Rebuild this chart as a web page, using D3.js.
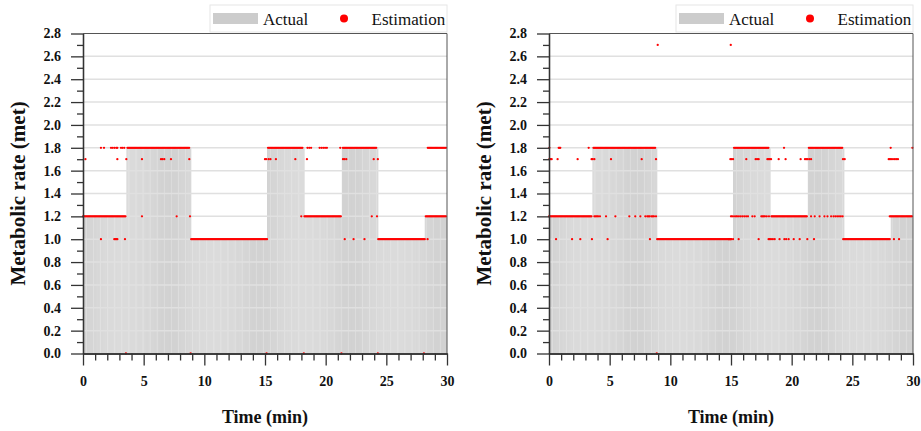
<!DOCTYPE html>
<html>
<head>
<meta charset="utf-8">
<script src="https://cdn.jsdelivr.net/npm/d3@7"></script>
<style>
body { margin: 0; background: #fff; }
svg text { font-family: "Liberation Serif", "Times New Roman", Times, serif; fill: #111; }
</style>
</head>
<body>
<div id="container"></div>
<script>
// 5 s samples, in minutes
const sampleStep = 1 / 12;
const nSamples = 360;

const xTicks = [0, 5, 10, 15, 20, 25, 30];
const yTicks = [0.0, 0.2, 0.4, 0.6, 0.8, 1.0, 1.2, 1.4, 1.6, 1.8, 2.0, 2.2, 2.4, 2.6, 2.8];

// actual activity level: [from, to, met]
const actualRuns = [
    [0, 3.55, 1.2], [3.55, 8.85, 1.8], [8.85, 15.13, 1.0], [15.13, 18.18, 1.8],
    [18.18, 21.32, 1.2], [21.32, 24.28, 1.8], [24.28, 28.15, 1.0], [28.15, 30, 1.2]
];

// estimation, continuous stretches: [from, to, met]
const leftEstRuns = [
    [0, 3.5, 1.2], [3.6, 8.8, 1.8], [8.9, 15.2, 1.0], [15.25, 18.13, 1.8],
    [18.2, 21.3, 1.2], [21.35, 24.23, 1.8], [24.3, 28.2, 1.0], [28.2, 30, 1.2], [28.4, 30, 1.8]
];
// estimation, single points: [met, [times]]
const leftEstPoints = [
    [1.8, [1.48, 1.73, 2.31, 2.45, 2.6, 2.75, 2.83, 3.13, 3.25, 3.4, 18.5, 18.65, 18.8, 19.5, 19.65, 19.8, 19.95, 20.1, 21.2]],
    [1.7, [0.2, 2.83, 3.57, 4.86, 6.43, 6.55, 6.7, 7.25, 8.76, 15.0, 15.1, 15.3, 15.45, 15.9, 17.5, 18.46, 21.43, 21.55, 21.7, 23.96, 24.3]],
    [1.2, [4.86, 7.72, 8.82, 17.99, 23.8, 24.23]],
    [1.0, [1.48, 2.58, 2.66, 2.75, 2.83, 3.46, 21.57, 22.3, 23.2, 28.4]],
    [0.0, [3.54, 8.87, 15.13, 18.2, 21.3, 24.3, 28.1]]
];

const rightEstRuns = [
    [0, 3.52, 1.2], [3.65, 8.76, 1.8], [8.9, 15.0, 1.0], [15.17, 18.1, 1.8],
    [18.3, 21.3, 1.2], [21.35, 24.23, 1.8], [24.23, 28.16, 1.0], [28.08, 30, 1.2]
];
const rightEstPoints = [
    [2.7, [8.96, 14.98]],
    [1.8, [0.03, 0.8, 0.87, 0.93, 3.27, 19.37, 28.16, 29.95]],
    [1.7, [0.03, 0.12, 0.22, 0.71, 2.36, 3.51, 3.6, 3.74, 5.11, 7.64, 8.82, 14.95, 15.05, 15.17, 16.26, 17.03, 17.15, 17.28,
           18.0, 18.1, 18.2, 18.3, 18.93, 19.5, 20.74, 21.1, 21.2, 21.3, 21.45, 21.6, 24.23, 24.37, 28.0, 28.1, 28.2, 28.35, 28.5, 28.62, 28.76]],
    [1.2, [3.74, 3.85, 3.95, 4.05, 4.2, 4.7, 5.47, 6.62, 7.11, 7.53, 7.94, 8.1, 8.2, 8.3, 8.45, 8.55, 8.65, 8.82,
           15.0, 15.1, 15.25, 15.4, 15.5, 15.65, 15.8, 15.95, 16.1, 16.25, 16.4, 16.76, 16.95, 17.5, 17.6, 17.7, 17.8, 17.95, 18.13,
           21.6, 21.9, 22.3, 22.7, 22.95, 23.25, 23.45, 23.6, 23.75, 23.9, 24.05, 24.2]],
    [1.0, [0.58, 1.9, 2.58, 3.54, 4.83, 8.32, 14.8, 14.9, 15.0, 15.17, 15.63, 17.28, 18.1, 18.2, 18.3, 18.45, 18.6, 19.0,
           19.4, 19.55, 19.75, 20.17, 20.66, 21.29, 21.84, 28.43, 28.85]],
    [0.0, [8.88]]
];

const plotTop = 33.5, plotW = 364, plotH = 320;

var svg = d3.select("#container")
    .append("svg")
    .attr("width", 921)
    .attr("height", 431);

function sampleTimes(){
    return d3.range(nSamples).map((i) => i * sampleStep);
}

function drawPanel(left, estRuns, estPoints){
    let x = d3.scaleLinear().domain([0, 30]).range([0, plotW]);
    let y = d3.scaleLinear().domain([0, 2.8]).range([plotH, 0]);

    let g = svg.append("g").attr("transform", `translate(${left},${plotTop})`);

    // actual bars
    let bars = sampleTimes().map((t) => {
        let r = actualRuns.find((d) => t >= d[0] && t < d[1]);
        return {t: t, v: r ? r[2] : 0};
    });
    let bw = x(sampleStep) - x(0);
    g.append("g").selectAll("rect")
        .data(bars)
        .enter()
        .append("rect")
        .attr("x", (d) => x(d.t))
        .attr("width", bw + 0.1)
        .attr("y", (d) => y(d.v))
        .attr("height", (d) => plotH - y(d.v))
        .attr("fill", (d, i) => i % 7 == 3 ? "#dcdcdc" : "#d2d2d2");

    // grid
    g.append("g").selectAll("line")
        .data(yTicks.filter((d) => d > 0 && d < 2.8))
        .enter()
        .append("line")
        .attr("x1", 0).attr("x2", plotW)
        .attr("y1", (d) => y(d)).attr("y2", (d) => y(d))
        .attr("stroke", "#e0e0e0")
        .attr("stroke-width", 1.5);

    // estimation
    let pts = [];
    estRuns.forEach((r) => {
        sampleTimes().forEach((t) => {
            if (t >= r[0] && t <= r[1]) pts.push({t: t, v: r[2]});
        });
    });
    estPoints.forEach((p) => p[1].forEach((t) => pts.push({t: t, v: p[0]})));
    g.append("g").selectAll("circle")
        .data(pts)
        .enter()
        .append("circle")
        .attr("cx", (d) => x(d.t))
        .attr("cy", (d) => y(d.v))
        .attr("r", 1.15)
        .attr("fill", "#ff0000");

    // frame
    g.append("path")
        .attr("d", `M0,0H${plotW}V${plotH}`)
        .attr("fill", "none")
        .attr("stroke", "#555")
        .attr("stroke-width", 1);

    // axes
    let yMinor = d3.range(1, 28, 2).map((i) => i / 10);
    let xMinor = d3.range(0, 31).filter((d) => d % 5 != 0);

    g.append("g").call(d3.axisLeft(y).tickValues(yMinor).tickSize(6).tickSizeOuter(0).tickFormat(""));
    let ya = g.append("g").call(d3.axisLeft(y).tickValues(yTicks).tickSize(12).tickSizeOuter(0)
        .tickPadding(10).tickFormat(d3.format(".1f")));
    ya.selectAll("text").attr("font-size", 14).attr("font-weight", "bold");

    g.append("g").attr("transform", `translate(0,${plotH})`)
        .call(d3.axisBottom(x).tickValues(xMinor).tickSize(7).tickSizeOuter(0).tickFormat(""));
    let xa = g.append("g").attr("transform", `translate(0,${plotH})`)
        .call(d3.axisBottom(x).tickValues(xTicks).tickSize(12).tickSizeOuter(0).tickPadding(11));
    xa.selectAll("text").attr("font-size", 14).attr("font-weight", "bold");

    g.selectAll(".domain, .tick line").attr("stroke", "#333").attr("stroke-width", 1.3);
    g.selectAll("g").attr("font-family", null);

    // axis titles
    g.append("text")
        .attr("transform", `translate(${-65},${plotH / 2}) rotate(-90)`)
        .attr("text-anchor", "middle")
        .attr("dominant-baseline", "central")
        .attr("font-size", 21)
        .attr("font-weight", "bold")
        .text("Metabolic rate (met)");

    g.append("text")
        .attr("x", plotW / 2)
        .attr("y", 389)
        .attr("text-anchor", "middle")
        .attr("font-size", 18)
        .attr("font-weight", "bold")
        .text("Time (min)");

    // legend
    let lg = g.append("g").attr("transform", `translate(${plotW},${-plotTop})`);
    lg.append("rect")
        .attr("x", -237).attr("y", 5).attr("width", 237).attr("height", 27)
        .attr("fill", "#fff").attr("stroke", "#e6e6e6");
    lg.append("rect")
        .attr("x", -234).attr("y", 13).attr("width", 45).attr("height", 11)
        .attr("fill", "#cccccc");
    lg.append("text").attr("x", -184).attr("y", 25).attr("font-size", 17).text("Actual");
    lg.append("circle").attr("cx", -103).attr("cy", 18.5).attr("r", 4).attr("fill", "#ff0000");
    lg.append("text").attr("x", -75.5).attr("y", 25).attr("font-size", 17).text("Estimation");
}

drawPanel(83, leftEstRuns, leftEstPoints);
drawPanel(549, rightEstRuns, rightEstPoints);
</script>
</body>
</html>
